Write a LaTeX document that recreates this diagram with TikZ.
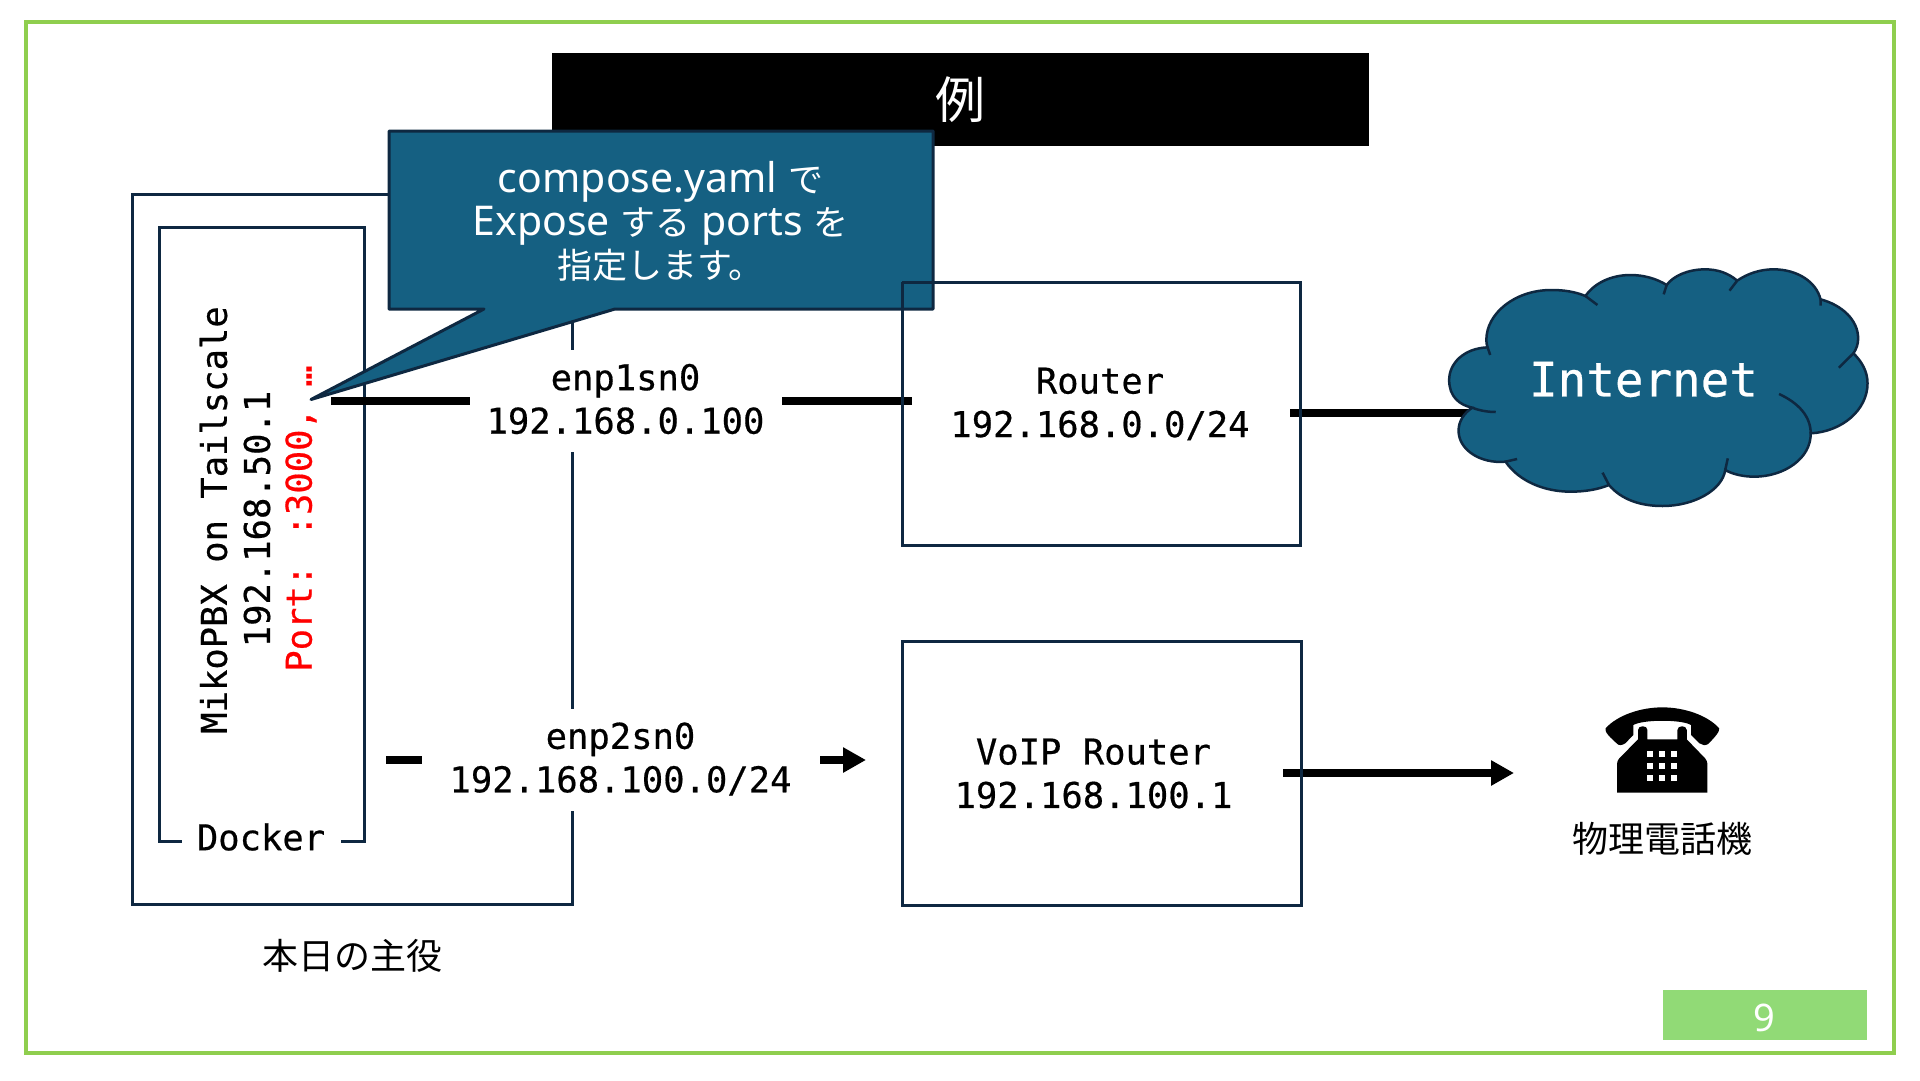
\documentclass[tikz,border=0pt]{standalone}
\usepackage{fontspec}
\usetikzlibrary{arrows.meta}
\setmainfont{Noto Sans}
\newfontfamily\cjkf{Noto Sans CJK JP}
\newfontfamily\monof[FakeBold=0.5]{DejaVu Sans Mono}
\definecolor{darkline}{HTML}{0E2841}
\definecolor{calloutblue}{HTML}{156082}
\definecolor{framegreen}{HTML}{8FCE4E}
\definecolor{pagegreen}{HTML}{91DA76}
\tikzset{
  every node/.style={outer sep=0pt},
  boxline/.style={draw=darkline,line width=3pt,fill=none},
  wire/.style={line width=7.5pt,draw=black},
  wirearrow/.style={wire,-{Triangle[length=23pt,width=24pt]}},
  masklabel/.style={fill=white,inner sep=0pt,align=center,text=black},
  monolabel/.style={align=center,text=black,inner sep=0pt,font=\monof\fontsize{35.5}{43.5}\selectfont},
  cjklabel/.style={inner sep=0pt,text=black,font=\cjkf\fontsize{36}{44}\selectfont},
}
\newcommand{\cj}[1]{{\cjkf\fontsize{35}{43}\selectfont #1}}
\begin{document}
\begin{tikzpicture}[x=1pt,y=-1pt]
\useasboundingbox (0,0) rectangle (1920,1080);
\fill[white] (0,0) rectangle (1920,1080);
% frame
\node[draw=framegreen,line width=4.5pt,minimum width=1868pt,minimum height=1031pt,inner sep=0pt,anchor=north west] (frame) at (26,22) {};
% title
\node[fill=black,minimum width=817pt,minimum height=93pt,inner sep=0pt,anchor=north west,text=white,font=\cjkf\fontsize{50}{54}\selectfont] (title) at (552,53) {例};
% page number
\node[fill=pagegreen,minimum width=204pt,minimum height=50pt,inner sep=0pt,anchor=north west] (pagebox) at (1663,990) {};
\node[text=white,inner sep=0pt,font=\fontsize{38}{40}\selectfont] (pagenum) at (1764,1017.5) {9};
% outer box + docker box
\node[boxline,minimum width=440pt,minimum height=710pt,inner sep=0pt,anchor=north west] (host) at (132,194) {};
\node[boxline,minimum width=205pt,minimum height=614pt,inner sep=0pt,anchor=north west] (docker) at (159,227) {};
\node[masklabel,minimum width=159pt,minimum height=44pt,font=\monof\fontsize{35.5}{40}\selectfont] (dockerlabel) at (261,837) {Docker};
% rotated labels
\node[monolabel,rotate=90] (mikolabel) at (213.5,520) {MikoPBX on Tailscale};
\node[monolabel,rotate=90] (iplabel) at (257,519) {192.168.50.1};
\node[monolabel,rotate=90,text=red] (portlabel) at (301,518.5) {Port: :3000,\ …};
% wires
\coordinate (w1a) at (331,401);
\coordinate (w1b) at (912,401);
\coordinate (w2a) at (386,760);
\coordinate (w2b) at (866,760);
\coordinate (w3a) at (1290,413);
\coordinate (w3b) at (1480,413);
\coordinate (w4a) at (1283,773);
\coordinate (w4b) at (1514,773);
\draw[wire] (w1a) -- (w1b);
\draw[wirearrow] (w2a) -- (w2b);
\draw[wire] (w3a) -- (w3b);
\draw[wirearrow] (w4a) -- (w4b);
% interface labels (white backing)
\node[fill=white,minimum width=312pt,minimum height=102pt,inner sep=0pt] (if1mask) at (626,401) {};
\node[monolabel] (if1) at (625.5,399) {enp1sn0\\192.168.0.100};
\node[fill=white,minimum width=398pt,minimum height=102pt,inner sep=0pt] (if2mask) at (621,760) {};
\node[monolabel] (if2) at (620.5,759) {enp2sn0\\192.168.100.0/24};
% router boxes
\node[boxline,minimum width=398pt,minimum height=263pt,inner sep=0pt,anchor=north west] (router) at (902,282) {};
\node[monolabel] (routerlabel) at (1100,404) {Router\\192.168.0.0/24};
\node[boxline,minimum width=399pt,minimum height=264pt,inner sep=0pt,anchor=north west] (voip) at (902,641) {};
\node[monolabel] (voiplabel) at (1093.5,773.5) {VoIP Router\\192.168.100.1};
% callout
\path[fill=calloutblue,draw=darkline,line width=3pt,line join=round]
  (389,131) -- (933,131) -- (933,309) -- (615,309) -- (311,399.5) -- (484,309) -- (389,309) -- cycle;
\draw[darkline,line width=3pt] (902,282) -- (933,282) (902,282) -- (902,309);
\node[text=white,align=center,inner sep=0pt,font=\fontsize{41}{43}\selectfont] (calloutlabel) at (660.5,221.5) {compose.yaml \cj{で}\\Expose \cj{する} ports \cj{を}\\\cj{指定します。}};
% cloud
\begin{scope}[shift={(1250,240)},x=0.42735pt,y=-0.33333pt]
\path[fill=calloutblue,draw=darkline,line width=2.5pt]
 (556,322) .. controls (500,325) and (466,370) .. (466,420) .. controls (466,470) and (490,495) .. (520,503)
 .. controls (500,520) and (488,545) .. (488,572) .. controls (488,630) and (540,672) .. (598,665)
 .. controls (630,725) and (690,755) .. (750,755) .. controls (785,755) and (815,748) .. (840,735)
 .. controls (870,780) and (915,798) .. (965,798) .. controls (1040,798) and (1105,750) .. (1112,690)
 .. controls (1130,703) and (1155,710) .. (1180,710) .. controls (1250,710) and (1313,655) .. (1312,580)
 .. controls (1385,575) and (1445,510) .. (1445,430) .. controls (1445,395) and (1432,365) .. (1412,340)
 .. controls (1420,325) and (1423,310) .. (1423,295) .. controls (1423,240) and (1385,195) .. (1335,178)
 .. controls (1325,125) and (1280,88) .. (1225,88) .. controls (1195,88) and (1165,100) .. (1140,122)
 .. controls (1120,100) and (1095,88) .. (1065,88) .. controls (1025,88) and (990,108) .. (975,135)
 .. controls (950,115) and (920,105) .. (890,105) .. controls (845,105) and (805,130) .. (785,168)
 .. controls (760,155) and (735,150) .. (705,150) .. controls (620,150) and (553,220) .. (553,300)
 .. controls (553,308) and (554,315) .. (556,322) -- cycle;
\draw[darkline,line width=2.5pt]
 (556,322) -- (562,345)
 (520,503) .. controls (535,511) and (555,516) .. (575,516)
 (598,665) -- (625,657)
 (825,698) -- (840,735)
 (1112,690) -- (1118,655)
 (1312,580) .. controls (1312,530) and (1285,490) .. (1238,462)
 (1412,340) -- (1378,383)
 (1335,178) -- (1335,197)
 (1140,122) -- (1122,152)
 (975,135) -- (968,163)
 (785,168) -- (813,195);
\end{scope}
\node[text=white,inner sep=0pt,font=\monof\fontsize{47.5}{50}\selectfont] (internet) at (1643.5,379.5) {Internet};
% phone
\begin{scope}[shift={(1250,680)},x=0.42735pt,y=-0.33333pt]
\fill[black]
 (832,145) .. controls (860,105) and (915,82) .. (965,82) .. controls (1015,82) and (1070,105) .. (1098,145)
 .. controls (1100,155) and (1085,175) .. (1072,192) .. controls (1065,198) and (1058,195) .. (1052,190)
 -- (1032,165) -- (1032,135) .. controls (1010,118) and (920,118) .. (897,135)
 -- (897,165) -- (878,190) .. controls (870,197) and (862,197) .. (858,190)
 .. controls (845,175) and (828,155) .. (832,145) -- cycle;
\fill[black]
 (908,178) -- (908,150) .. controls (908,135) and (930,135) .. (930,150) -- (930,178)
 -- (1000,178) -- (1000,150) .. controls (1000,135) and (1022,135) .. (1022,150) -- (1022,178)
 -- (1065,235) .. controls (1068,240) and (1070,245) .. (1070,250) -- (1070,338) -- (859,338) -- (859,250)
 .. controls (859,245) and (861,240) .. (864,235) -- cycle;
\foreach \kx in {929,957,985}{\foreach \ky in {213,249,285}{
  \fill[white] (\kx,\ky) rectangle ++(15,18);}}
\end{scope}
\node[cjklabel] (phonelabel) at (1662,839) {物理電話機};
\node[cjklabel] (hostlabel) at (352,956) {本日の主役};
\end{tikzpicture}
\end{document}
